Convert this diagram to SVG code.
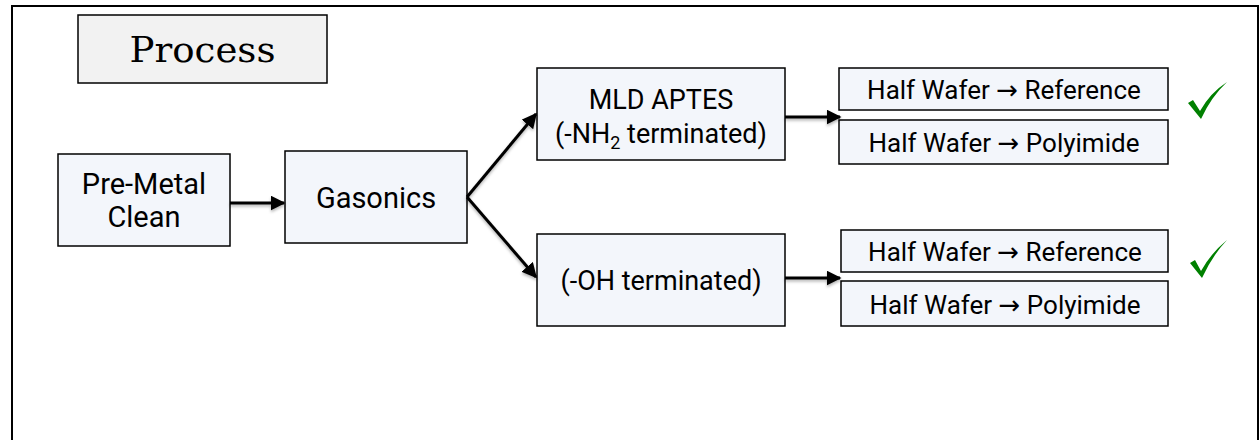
<svg xmlns="http://www.w3.org/2000/svg" width="1260" height="440" viewBox="0 0 1260 440">
<style>
.box{fill:#f3f6fb;stroke:#000;stroke-width:1.5}
.t{font-family:Roboto,"Liberation Sans",sans-serif;font-size:27px;fill:#000;text-anchor:middle}
.big{font-size:29px}
.hw{font-size:26px}
.ar{font-family:"DejaVu Sans",sans-serif}
.conn{stroke:#000;stroke-width:3;fill:none;marker-end:url(#ah)}
</style>
<defs>
<marker id="ah" viewBox="0 0 10 10" refX="9" refY="5" markerWidth="5" markerHeight="5" orient="auto" markerUnits="strokeWidth">
<path d="M0,0 L10,5 L0,10 z" fill="#000"/>
</marker>
<filter id="sh" x="-20%" y="-50%" width="140%" height="200%">
<feDropShadow dx="0" dy="2" stdDeviation="1.5" flood-color="#000" flood-opacity="0.3"/>
</filter>
</defs>
<rect x="0" y="0" width="1260" height="440" fill="#fff"/>
<rect x="12" y="6" width="1246" height="460" fill="#fff" stroke="#000" stroke-width="2"/>
<g id="title">
<rect x="78" y="15" width="249" height="68" fill="#f2f2f2" stroke="#000" stroke-width="1.5"/>
<text x="202.5" y="62" font-family="'DejaVu Serif','Liberation Serif',serif" font-size="36" text-anchor="middle" textLength="146" lengthAdjust="spacingAndGlyphs">Process</text>
</g>
<g id="premetal">
<rect class="box" x="58" y="154" width="172" height="92"/>
<text class="t big" x="144" y="194">Pre-Metal</text>
<text class="t big" x="144" y="227">Clean</text>
</g>
<g id="gasonics">
<rect class="box" x="285" y="151" width="182" height="92"/>
<text class="t big" x="376" y="208">Gasonics</text>
</g>
<g id="mld">
<rect class="box" x="537" y="68" width="248" height="92"/>
<text class="t" x="661" y="109">MLD APTES</text>
<text class="t" x="661" y="143">(-NH<tspan font-size="18" dy="6">2</tspan><tspan dy="-6"> terminated)</tspan></text>
</g>
<g id="oh">
<rect class="box" x="537" y="234" width="248" height="92"/>
<text class="t" x="661" y="290">(-OH terminated)</text>
</g>
<g id="hw1">
<rect class="box" x="839" y="68" width="329" height="42"/>
<text class="t hw" x="1004" y="99">Half Wafer <tspan class="ar">→</tspan> Reference</text>
</g>
<g id="hw2">
<rect class="box" x="839" y="120" width="329" height="44"/>
<text class="t hw" x="1004" y="152">Half Wafer <tspan class="ar">→</tspan> Polyimide</text>
</g>
<g id="hw3">
<rect class="box" x="841" y="230" width="327" height="42"/>
<text class="t hw" x="1005" y="261">Half Wafer <tspan class="ar">→</tspan> Reference</text>
</g>
<g id="hw4">
<rect class="box" x="841" y="281" width="327" height="45"/>
<text class="t hw" x="1005" y="314">Half Wafer <tspan class="ar">→</tspan> Polyimide</text>
</g>
<g id="checks" fill="#008000">
<path d="M1188,103 L1193,100 L1200,111 Q1210,93 1227,82 Q1211,97 1201,119 Z"/>
<path d="M1190,263 L1195,260 L1201,271 Q1211,253 1227,240 Q1212,256 1202,278 Z"/>
</g>
<g id="connectors" filter="url(#sh)">
<line class="conn" x1="230" y1="203" x2="284" y2="203"/>
<line class="conn" x1="467" y1="197" x2="536" y2="114"/>
<line class="conn" x1="467" y1="197" x2="536" y2="277"/>
<line class="conn" x1="785" y1="117" x2="840" y2="117"/>
<line class="conn" x1="785" y1="278" x2="840" y2="278"/>
</g>
</svg>
